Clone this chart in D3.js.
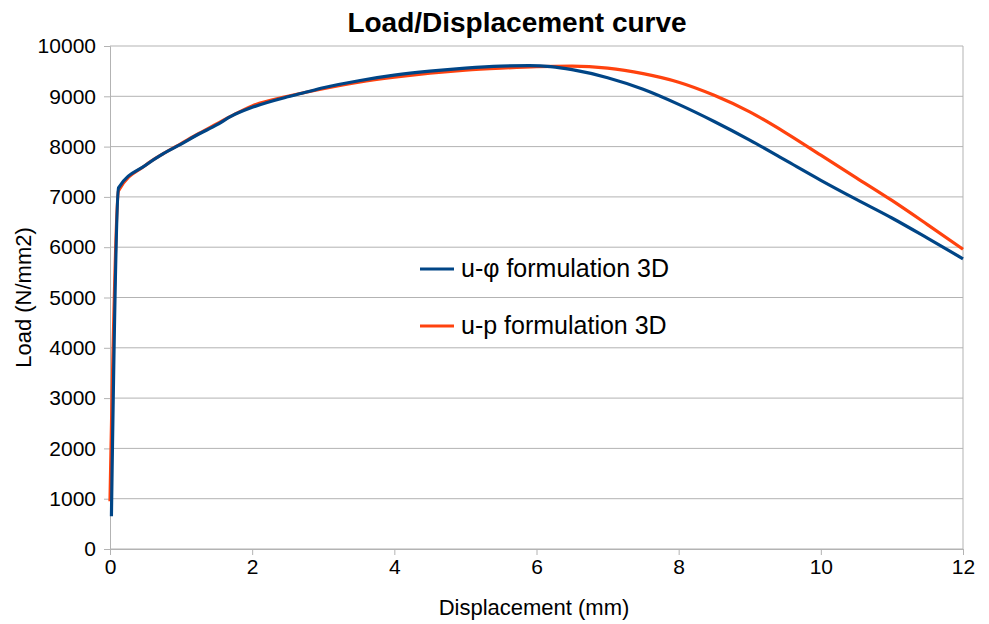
<!DOCTYPE html>
<html>
<head>
<meta charset="utf-8">
<script src="https://cdn.jsdelivr.net/npm/d3@7"></script>
<style>
body { margin: 0; background: #fff; }
text { font-family: "Liberation Sans", Arial, sans-serif; fill: #000; }
</style>
</head>
<body>
<svg id="chart" width="989" height="624"></svg>
<script>
// u-phi formulation 3D (displacement mm, load)
var phiDisp = [0.02, 0.12, 0.5, 0.75, 1.0, 1.25, 1.5, 1.7, 2.0, 2.5, 2.7, 3.0, 3.5, 4.0, 4.5, 5.0, 5.5, 5.9, 6.2, 6.5, 7.0, 7.5, 8.0, 8.5, 9.0, 9.5, 10.0, 10.5, 11.0, 11.5, 12.0];
var phiLoad = [650, 7180, 7630, 7860, 8050, 8250, 8430, 8600, 8780, 8990, 9060, 9170, 9310, 9420, 9500, 9560, 9600, 9610, 9590, 9530, 9370, 9140, 8840, 8500, 8130, 7730, 7330, 6950, 6580, 6180, 5770];

// u-p formulation 3D
var upDisp = [0.0, 0.12, 0.5, 0.75, 1.0, 1.25, 1.5, 1.75, 2.0, 2.5, 3.0, 3.5, 4.0, 4.5, 5.0, 5.5, 6.0, 6.5, 7.0, 7.5, 8.0, 8.5, 9.0, 9.5, 10.0, 10.5, 11.0, 11.5, 12.0];
var upLoad = [950, 7120, 7630, 7860, 8060, 8260, 8450, 8640, 8810, 9000, 9150, 9280, 9380, 9460, 9520, 9560, 9590, 9600, 9560, 9450, 9280, 9020, 8690, 8280, 7830, 7380, 6930, 6450, 5960];

var xTicks = [0, 2, 4, 6, 8, 10, 12];
var yTicks = [0, 1000, 2000, 3000, 4000, 5000, 6000, 7000, 8000, 9000, 10000];

var seriesNames = ["u-\u03c6 formulation 3D", "u-p formulation 3D"];
var seriesColors = ["#004586", "#ff420e"];

var svg = d3.select("#chart"),
    margin = {top: 46, right: 26, bottom: 75, left: 110},
    width = +svg.attr("width") - margin.left - margin.right,
    height = +svg.attr("height") - margin.top - margin.bottom;

var x = d3.scaleLinear().domain([0, 12]).range([0, width]),
    y = d3.scaleLinear().domain([0, 10000]).range([height, 0]);

var g = svg.append("g").attr("transform", "translate(" + margin.left + "," + margin.top + ")");

// horizontal grid
g.selectAll("line.grid").data(yTicks).enter().append("line")
    .attr("class", "grid")
    .attr("x1", 0).attr("x2", width)
    .attr("y1", function(d){ return y(d); }).attr("y2", function(d){ return y(d); })
    .attr("stroke", "#b3b3b3").attr("stroke-width", 1);

// right border
g.append("line").attr("x1", width).attr("x2", width).attr("y1", 0).attr("y2", height)
    .attr("stroke", "#b3b3b3");

var yAxis = d3.axisLeft(y).tickValues(yTicks).tickSize(6).tickPadding(8).tickFormat(d3.format("d"));
var xAxis = d3.axisBottom(x).tickValues(xTicks).tickSize(6).tickPadding(4).tickFormat(d3.format("d"));

var ya = g.append("g").call(yAxis);
var xa = g.append("g").attr("transform", "translate(0," + height + ")").call(xAxis);
[ya, xa].forEach(function(a){
  a.select(".domain").attr("stroke", "#b3b3b3");
  a.selectAll(".tick line").attr("stroke", "#b3b3b3");
  a.selectAll("text").style("font-size", "21px").attr("font-family", "Liberation Sans, Arial, sans-serif").attr("fill", "#000");
});

var line = d3.line()
    .x(function(d){ return x(d[0]); })
    .y(function(d){ return y(d[1]); })
    .curve(d3.curveMonotoneX);

var upData = d3.zip(upDisp, upLoad);
var phiData = d3.zip(phiDisp, phiLoad);

g.append("path").datum(upData).attr("d", line)
    .attr("fill", "none").attr("stroke", seriesColors[1]).attr("stroke-width", 3.2);
g.append("path").datum(phiData).attr("d", line)
    .attr("fill", "none").attr("stroke", seriesColors[0]).attr("stroke-width", 3.2);

// legend
var legend = svg.append("g").attr("transform", "translate(420,269)");
seriesNames.forEach(function(name, i){
  var row = legend.append("g").attr("transform", "translate(0," + (i * 57) + ")");
  row.append("line").attr("x1", 0).attr("x2", 34).attr("y1", 0).attr("y2", 0)
      .attr("stroke", seriesColors[i]).attr("stroke-width", 3.2);
  row.append("text").attr("x", 41).attr("y", 8).style("font-size", "25px").text(name);
});

// title and axis labels
svg.append("text").attr("x", 517).attr("y", 32).attr("text-anchor", "middle")
    .style("font-size", "28px").style("font-weight", "bold").text("Load/Displacement curve");
svg.append("text").attr("x", 534).attr("y", 615).attr("text-anchor", "middle")
    .style("font-size", "22px").text("Displacement (mm)");
svg.append("text").attr("transform", "translate(31," + (margin.top + height / 2) + ") rotate(-90)")
    .attr("text-anchor", "middle").style("font-size", "22px").text("Load (N/mm2)");
</script>
</body>
</html>
